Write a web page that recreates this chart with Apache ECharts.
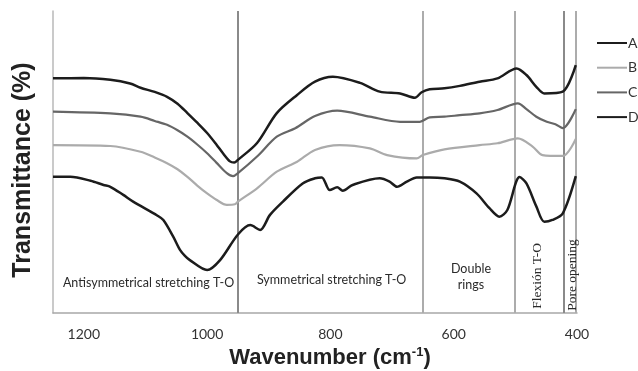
<!DOCTYPE html>
<html>
<head>
<meta charset="utf-8">
<script src="https://cdn.jsdelivr.net/npm/echarts@6/dist/echarts.min.js"></script>
<style>
  html, body { margin: 0; padding: 0; background: #fff; }
  #chart { width: 638px; height: 371px; }
</style>
</head>
<body>
<div id="chart"></div>
<script>
// FTIR spectra, wavenumber (cm-1) vs transmittance (arbitrary %, offset curves)
const seriesNames = ['A', 'B', 'C', 'D'];

const waveA = [1250, 1200, 1157, 1125, 1108, 1085, 1065, 1048, 1032, 1016, 1000, 985, 974, 963, 956, 950, 919, 887, 854, 825, 796, 752, 720, 687, 663, 652, 639, 615, 590, 558, 529, 498, 482, 466, 453, 423, 402];
const transA = [77.7, 77.8, 77.2, 76.0, 74.6, 73.2, 71.6, 69.3, 66.2, 63.0, 59.6, 55.8, 52.8, 50.2, 49.8, 50.7, 56.3, 66.2, 72.2, 76.6, 78.2, 76.2, 73.3, 72.7, 71.3, 73.1, 74.1, 74.4, 75.2, 76.6, 77.7, 81.0, 78.8, 74.9, 72.7, 73.3, 82.1];

const waveB = [1250, 1157, 1108, 1085, 1065, 1048, 1032, 1016, 1000, 985, 968, 955, 950, 919, 887, 854, 825, 785, 736, 708, 660, 650, 615, 558, 529, 496, 472, 456, 423, 402];
const transB = [55.6, 55.3, 53.4, 51.5, 49.6, 47.6, 45.1, 42.2, 39.6, 37.5, 35.8, 36.0, 36.9, 41.3, 46.8, 50.1, 54.0, 55.6, 54.5, 52.3, 51.2, 52.3, 54.2, 55.6, 56.2, 57.8, 55.1, 52.3, 52.0, 57.6];

const waveC = [1250, 1157, 1108, 1085, 1065, 1048, 1032, 1016, 1000, 985, 968, 958, 950, 919, 887, 857, 825, 789, 736, 687, 655, 639, 615, 590, 558, 529, 496, 482, 466, 449, 435, 423, 402];
const transC = [66.7, 66.1, 65.0, 63.6, 62.3, 60.5, 58.4, 55.8, 52.9, 49.8, 46.3, 45.3, 46.3, 51.8, 58.4, 61.2, 65.2, 67.0, 65.0, 63.3, 63.3, 64.8, 65.0, 65.5, 66.1, 67.2, 69.4, 67.5, 65.0, 63.3, 62.5, 61.2, 67.5];

const waveD = [1250, 1222, 1189, 1168, 1157, 1136, 1120, 1081, 1071, 1055, 1044, 1036, 1028, 1000, 979, 950, 930, 914, 898, 877, 845, 825, 814, 801, 789, 780, 764, 720, 704, 692, 676, 660, 639, 615, 590, 563, 542, 526, 513, 493, 482, 466, 453, 440, 423, 402];
const transD = [45.1, 45.1, 43.8, 42.4, 41.8, 39.1, 36.9, 32.3, 30.8, 25.3, 20.9, 18.9, 17.5, 14.2, 17.5, 26.0, 29.1, 27.5, 32.5, 36.9, 42.9, 44.6, 44.9, 40.7, 41.6, 40.5, 42.4, 44.6, 43.5, 41.8, 43.5, 44.9, 44.9, 44.6, 43.5, 39.6, 34.7, 31.9, 34.1, 45.0, 42.9, 35.3, 30.2, 30.8, 33.0, 45.3];

// vibration band boundaries (cm-1)
const bandEdges = [950, 651, 501, 421, 402];
const bandLabels = ['Antisymmetrical stretching T-O', 'Symmetrical stretching T-O', 'Double\nrings', 'Flexión T-O', 'Pore opening'];

const pairs = (xs, ys) => xs.map((x, i) => [x, ys[i]]);

const chart = echarts.init(document.getElementById('chart'));

const sansFont = 'Lato, "Open Sans", sans-serif';
const serifFont = '"Liberation Serif", "DejaVu Serif", serif';
const boldFont = '"Liberation Sans", Arial, sans-serif';
const edgeColors = ['#8a8a8a', '#acacac', '#acacac', '#8a8a8a', '#acacac'];

const option = {
  animation: false,
  backgroundColor: '#fff',
  grid: { left: 53, right: 61, top: 11, bottom: 58, outerBoundsMode: 'none', containLabel: false },
  legend: {
    data: seriesNames,
    orient: 'vertical',
    left: 591,
    top: 31,
    itemWidth: 30,
    itemHeight: 14,
    itemGap: 10.7,
    itemStyle: { color: 'transparent', borderColor: 'transparent', borderWidth: 0, opacity: 0 },
    textStyle: { fontFamily: sansFont, fontSize: 14, color: '#333', padding: [0, 0, 0, -4] }
  },
  xAxis: {
    type: 'value',
    inverse: true,
    min: 400,
    max: 1250,
    interval: 200,
    name: 'Wavenumber (cm{sup|-1})',
    nameLocation: 'middle',
    nameGap: 33,
    nameTextStyle: {
      fontFamily: boldFont,
      fontWeight: 'bold',
      fontSize: 22,
      color: '#222',
      padding: [0, 0, 0, 30],
      rich: {
        sup: { fontFamily: boldFont, fontWeight: 'bold', fontSize: 13, color: '#222', padding: [0, 0, 10, 0] }
      }
    },
    axisLine: { show: true, lineStyle: { color: '#a8a8a8', width: 1.5 } },
    axisTick: { show: false },
    splitLine: { show: false },
    axisLabel: {
      showMaxLabel: false,
      margin: 14,
      fontFamily: sansFont,
      fontSize: 14,
      color: '#333',
      formatter: v => String(v)
    }
  },
  yAxis: {
    type: 'value',
    min: 0,
    max: 100,
    name: 'Transmittance (%)',
    nameLocation: 'middle',
    nameGap: 17,
    nameTextStyle: {
      fontFamily: boldFont,
      fontWeight: 'bold',
      fontSize: 25,
      color: '#222',
      padding: [0, 16, 0, 0]
    },
    axisLine: { show: true, lineStyle: { color: '#b8b8b8', width: 1.5 } },
    axisTick: { show: false },
    axisLabel: { show: false },
    splitLine: { show: false }
  },
  series: [
    {
      name: 'A', type: 'line', data: pairs(waveA, transA),
      smooth: 0.3, symbol: 'none',
      lineStyle: { color: '#1c1c1c', width: 2.5 }, itemStyle: { color: '#1c1c1c' },
      markLine: {
        silent: true,
        symbol: ['none', 'none'],
        label: { show: false },
        z: 1,
        data: bandEdges.map((w, i) => ({ xAxis: w, lineStyle: { color: edgeColors[i], width: 2, type: 'solid' } }))
      }
    },
    {
      name: 'B', type: 'line', data: pairs(waveB, transB),
      smooth: 0.3, symbol: 'none',
      lineStyle: { color: '#ababab', width: 2.2 }, itemStyle: { color: '#ababab' }
    },
    {
      name: 'C', type: 'line', data: pairs(waveC, transC),
      smooth: 0.3, symbol: 'none',
      lineStyle: { color: '#666', width: 2.2 }, itemStyle: { color: '#666' }
    },
    {
      name: 'D', type: 'line', data: pairs(waveD, transD),
      smooth: 0.3, symbol: 'none',
      lineStyle: { color: '#1c1c1c', width: 2.5 }, itemStyle: { color: '#1c1c1c' },
      markPoint: {
        silent: true,
        symbol: 'circle',
        symbolSize: 0,
        itemStyle: { color: 'transparent' },
        label: { show: true, position: 'inside', formatter: '{b}', color: '#2a2a2a', fontFamily: sansFont, fontSize: 12.5, lineHeight: 16 },
        data: [
          { name: bandLabels[0], coord: [1095, 9.9] },
          { name: bandLabels[1], coord: [798, 10.9] },
          { name: bandLabels[2], coord: [572, 11.9] },
          { name: bandLabels[3], coord: [464, 12.3], label: { rotate: 90, fontFamily: serifFont, fontSize: 13.5 } },
          { name: bandLabels[4], coord: [408, 12.6], label: { rotate: 90, fontFamily: serifFont, fontSize: 13.5 } }
        ]
      }
    }
  ]
};

chart.setOption(option);
</script>
</body>
</html>
